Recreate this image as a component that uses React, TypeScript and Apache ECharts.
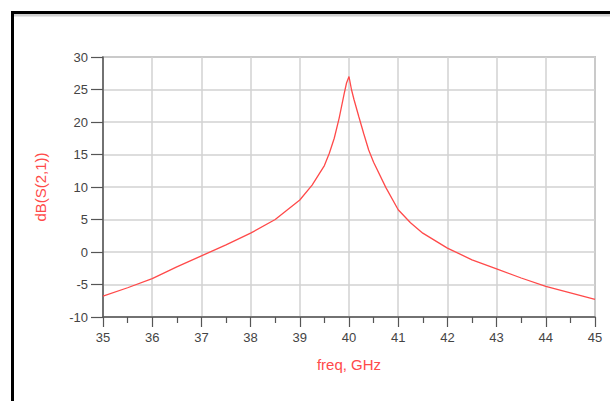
import React, { useEffect, useRef } from "react";
import * as echarts from "echarts";

const freqGHz = [
  35, 35.5, 36, 36.5, 37, 37.5, 38, 38.5, 39, 39.25, 39.5, 39.6, 39.7, 39.8, 39.9, 39.95,
  40, 40.05, 40.1, 40.2, 40.3, 40.4, 40.5, 40.75, 41, 41.25, 41.5, 42, 42.5, 43, 43.5, 44, 44.5, 45,
];
const dbS21 = [
  -6.8, -5.5, -4.1, -2.3, -0.6, 1.1, 2.9, 5.0, 8.0, 10.3, 13.3, 15.2, 17.5, 20.6, 24.3, 26.0,
  27.0, 25.0, 23.5, 20.8, 18.2, 15.7, 13.8, 9.9, 6.5, 4.5, 2.9, 0.6, -1.2, -2.6, -4.0, -5.3, -6.3, -7.3,
];

const xMin = 35;
const xMax = 45;
const xInterval = 1;
const yMin = -10;
const yMax = 30;
const yInterval = 5;

const xName = "freq, GHz";
const yName = "dB(S(2,1))";

const FONT = 'Arial, "Liberation Sans", sans-serif';
const RED = "#ff4a4a";
const AXIS = "#555555";
const LABEL = "#444444";
const GRID = "#d2d2d2";

export default function App() {
  const ref = useRef<HTMLDivElement>(null);
  useEffect(() => {
    const chart = echarts.init(ref.current!, null, { renderer: "svg" });
    chart.setOption({
      animation: false,
      backgroundColor: "#ffffff",
      grid: {
        left: 103,
        right: 15,
        top: 57,
        bottom: 84,
        show: true,
        borderColor: "#9a9a9a",
        borderWidth: 1.5,
      },
      xAxis: {
        type: "value",
        min: xMin,
        max: xMax,
        interval: xInterval,
        name: xName,
        nameLocation: "middle",
        nameGap: 40,
        nameTextStyle: { color: RED, fontSize: 15, fontFamily: FONT },
        axisLine: { show: true, onZero: false, lineStyle: { color: AXIS, width: 1.5 } },
        axisTick: { show: true, inside: false, length: 10, lineStyle: { color: AXIS, width: 1.2 } },
        minorTick: { show: true, splitNumber: 2, length: 6, lineStyle: { color: AXIS, width: 1.2 } },
        splitLine: { show: true, lineStyle: { color: GRID, width: 1.5 } },
        axisLabel: { color: LABEL, fontSize: 13, fontFamily: FONT, margin: 14 },
      },
      yAxis: {
        type: "value",
        min: yMin,
        max: yMax,
        interval: yInterval,
        name: yName,
        nameLocation: "middle",
        nameGap: 55,
        nameRotate: 90,
        nameTextStyle: { color: RED, fontSize: 15, fontFamily: FONT },
        axisLine: { show: true, onZero: false, lineStyle: { color: AXIS, width: 1.5 } },
        axisTick: { show: true, inside: false, length: 12, lineStyle: { color: AXIS, width: 1.2 } },
        splitLine: { show: true, lineStyle: { color: GRID, width: 1.5 } },
        axisLabel: { color: LABEL, fontSize: 13, fontFamily: FONT, margin: 15 },
      },
      series: [
        {
          type: "line",
          data: freqGHz.map((f, i) => [f, dbS21[i]]),
          showSymbol: false,
          smooth: false,
          lineStyle: { color: RED, width: 1.3 },
        },
      ],
      graphic: [
        { type: "rect", shape: { x: 14, y: 14, width: 600, height: 2.5 }, style: { fill: "#d0d0d0" }, silent: true },
        { type: "rect", shape: { x: 11, y: 11, width: 600, height: 3 }, style: { fill: "#000000" }, silent: true },
        { type: "rect", shape: { x: 11, y: 11, width: 3, height: 400 }, style: { fill: "#000000" }, silent: true },
      ],
    });
    return () => chart.dispose();
  }, []);
  return (
    <div
      ref={ref}
      style={{ position: "fixed", left: 0, top: 0, width: 610, height: 401, background: "#fff" }}
    />
  );
}
